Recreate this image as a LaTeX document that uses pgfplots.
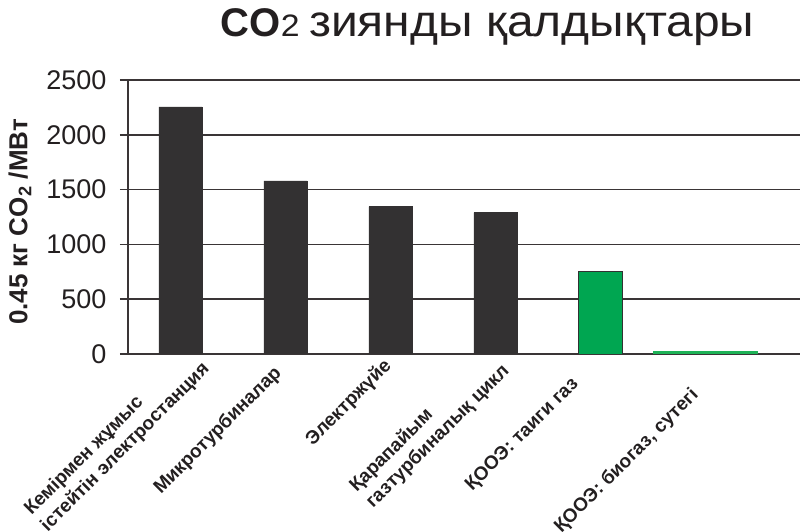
\documentclass[border=0pt]{standalone}
\usepackage{pgfplots}
\pgfplotsset{compat=1.18}
\usepackage{fontspec}
\setmainfont{Liberation Sans}
\newfontfamily\titlefont[FakeStretch=1.09]{Liberation Sans}
\definecolor{barDark}{HTML}{333132}
\definecolor{barGreen}{HTML}{00A651}
\definecolor{lineGreen}{HTML}{1DB256}
\definecolor{gridc}{HTML}{3A3536}
\definecolor{txt}{HTML}{231F20}
\newcommand{\lab}[3]{\makebox[0pt][r]{\raisebox{#2pt}[0pt][0pt]{#3\hspace*{#1pt}}}}
\begin{document}
\begin{tikzpicture}[x=1pt,y=1pt]
\begin{axis}[
  at={(0,0)}, anchor=south west,
  scale only axis, width=672pt, height=274pt,
  xmin=-0.5, xmax=5.9, ymin=0, ymax=2500,
  axis x line=bottom, axis y line=left,
  axis line style={-, gridc, line width=1.8pt},
  ytick={0,500,...,2500},
  ymajorgrids, grid style={gridc, line width=1.6pt},
  tick align=outside,
  major tick length=8pt,
  ytick style={gridc, line width=1.6pt},
  xtick={0,1,2,3,4,5},
  xtick style={draw=none},
  minor xtick={-0.5,0.5,1.5,2.5,3.5,4.5,5.5},
  minor x tick style={gray, line width=1pt},
  minor tick length=7pt,
  xticklabels={
    {\lab{-15.2}{-26.5}{\begin{tabular}[b]{@{}l@{}}Кемірмен жұмыс\\істейтін электростанция\end{tabular}}},
    {\lab{10.9}{-6}{Микротурбиналар}},
    {\lab{2.5}{-4.6}{Электржүйе}},
    {\lab{-3.2}{-17.3}{\begin{tabular}[b]{@{}l@{}}Қарапайым\\газтурбиналық цикл\end{tabular}}},
    {\lab{31.4}{-1}{ҚООЭ: таиги газ}},
    {\lab{28.6}{-19.4}{ҚООЭ: биогаз, сутегі}}},
  xticklabel style={rotate=45, anchor=center, inner sep=0pt, font=\fontsize{19}{23}\selectfont\bfseries, text=txt},
  yticklabel style={font=\fontsize{27}{32}\selectfont, text=txt, xshift=-10pt},
  /pgf/number format/assume math mode=true,
  /pgf/number format/1000 sep={},
]
\addplot[ybar, bar shift=0pt, bar width=0.414, fill=barDark, draw=barDark] coordinates {(0,2255) (1,1580) (2,1345) (3,1290)};
\addplot[ybar, bar shift=0pt, bar width=0.414, fill=barGreen, draw=barDark, line width=0.8pt] coordinates {(4,752)};
\addplot[ybar, bar shift=0pt, bar width=1.0, fill=lineGreen, draw=none] coordinates {(5,28)};
\end{axis}
\node[anchor=base west, inner sep=0pt, text=txt] at (92.7,317.5) {\fontsize{40}{48}\selectfont\textbf{CO}\titlefont\fontsize{31}{36}\selectfont 2 \fontsize{44}{52}\selectfont зиянды қалдықтары};
\node[rotate=90, text=txt] at (-108,132) {\fontsize{26}{30}\selectfont\bfseries 0.45 кг CO\textsubscript{2} /МВт};
\pgfresetboundingbox
\path[use as bounding box] (-128,-178) rectangle (672,354);
\end{tikzpicture}
\end{document}
